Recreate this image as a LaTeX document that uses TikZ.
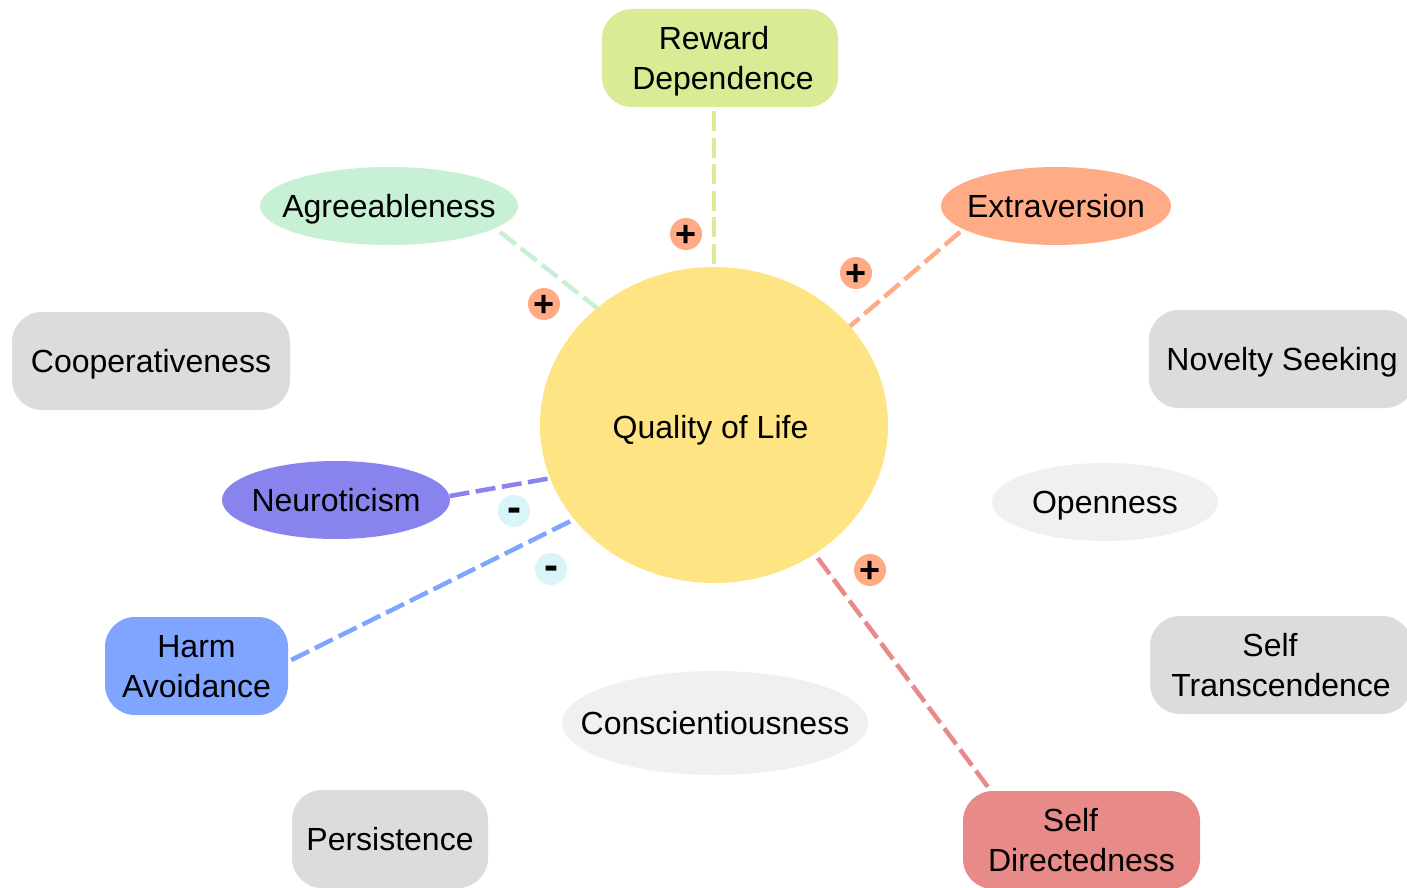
\documentclass[tikz,border=0pt]{standalone}
\usepackage{fontspec}
\setmainfont{Liberation Sans}
\usetikzlibrary{shapes.geometric}
\definecolor{cq}{HTML}{FFE484}
\definecolor{crew}{HTML}{D9EC95}
\definecolor{cagr}{HTML}{C8F0D5}
\definecolor{cext}{HTML}{FFAB86}
\definecolor{cgray}{HTML}{DDDBDC}
\definecolor{cneu}{HTML}{8983EE}
\definecolor{charm}{HTML}{80A5FF}
\definecolor{clight}{HTML}{F0F0F0}
\definecolor{csd}{HTML}{E88A87}
\definecolor{cminus}{HTML}{D9F5FA}
\newcommand{\ew}[1]{\makebox[0pt]{#1}}
\newcommand{\psign}{\smash{\raisebox{-12.6pt}{+}}}
\newcommand{\msign}{\smash{\raisebox{-10.7pt}{\fontsize{42}{42}\selectfont -}}}
\tikzset{
  txt/.style={font=\fontsize{32}{40}\selectfont, text=black, align=center, inner sep=0pt,
    execute at begin node={\rule[-8pt]{0pt}{39pt}},
    execute at end node={\rule[-8pt]{0pt}{8pt}}},
  txttwo/.style={txt, execute at begin node={\rule[-8pt]{0pt}{79pt}}},
  rbox/.style={txt, rectangle, rounded corners=30pt, minimum height=98pt},
  rboxtwo/.style={rbox, txttwo},
  ell/.style={txt, ellipse},
  link/.style={line width=4.5pt, dash pattern=on 20pt off 6.5pt},
  sign/.style={circle, minimum size=32pt, inner sep=0pt, font=\fontsize{36}{36}\selectfont\bfseries},
  plus/.style={sign, fill=cext},
  minus/.style={sign, fill=cminus},
}
\begin{document}
\begin{tikzpicture}[x=1pt,y=-1pt]
\useasboundingbox (0,0) rectangle (1407,888);
\clip (0,0) rectangle (1407,888);
\fill[white] (0,0) rectangle (1407,888);
% center
\node[ell, fill=cq, minimum width=348pt, minimum height=316pt] (q) at (714,425) {\raisebox{-3pt}{\ew{\hspace*{-7pt}Quality of Life}}};
% nodes
\node[rboxtwo, fill=crew, minimum width=236pt] (rew) at (720,58) {Reward\hspace*{12pt}\\ \hspace*{6pt}Dependence};
\node[ell, fill=cagr, minimum width=258pt, minimum height=78pt] (agr) at (389,206) {\ew{Agreeableness}};
\node[ell, fill=cext, minimum width=230pt, minimum height=78pt] (ext) at (1056,206) {\ew{Extraversion}};
\node[rbox, fill=cgray, minimum width=278pt] (coop) at (151,361) {Cooperativeness};
\node[rbox, fill=cgray, minimum width=266pt] (nov) at (1282,359) {Novelty Seeking};
\node[ell, fill=cneu, minimum width=228pt, minimum height=78pt] (neu) at (336,500) {\ew{Neuroticism}};
\node[ell, fill=clight, minimum width=226pt, minimum height=78pt] (open) at (1105,502) {\ew{Openness}};
\node[rboxtwo, fill=charm, minimum width=183pt] (harm) at (196.5,666) {Harm\\ Avoidance};
\node[rboxtwo, fill=cgray, minimum width=262pt] (st) at (1281,665) {Self\hspace*{22pt}\\ Transcendence};
\node[ell, fill=clight, minimum width=306pt, minimum height=104pt] (con) at (715,723) {\ew{Conscientiousness}};
\node[rbox, fill=cgray, minimum width=196pt] (per) at (390,839) {Persistence};
\node[rboxtwo, fill=csd, minimum width=237pt] (sd) at (1081.5,840) {Self\hspace*{22pt}\\ Directedness};
% links
\draw[link, draw=cagr] ([shift={(111,26)}]agr.center) -- (q.135);
\draw[link, draw=crew] ([yshift=-4pt]rew.south -| q.north) -- ([yshift=3pt]q.north);
\draw[link, draw=cext] ([shift={(-96,26)}]ext.center) -- (q.36);
\draw[link, draw=cneu] (neu.2) -- (q.198);
\draw[link, draw=charm] ([xshift=3pt,yshift=6pt]harm.east) -- (q.214);
\draw[link, draw=csd] ([xshift=25pt,yshift=4pt]sd.north west) -- (q.308);
% signs
\node[plus] (s1) at (686,234) {\psign};
\node[plus] (s2) at (544,304) {\psign};
\node[plus] (s3) at (856,273) {\psign};
\node[minus] (s4) at (514,511) {\msign};
\node[minus] (s5) at (551,569) {\msign};
\node[plus] (s6) at (870,570) {\psign};
\end{tikzpicture}
\end{document}
